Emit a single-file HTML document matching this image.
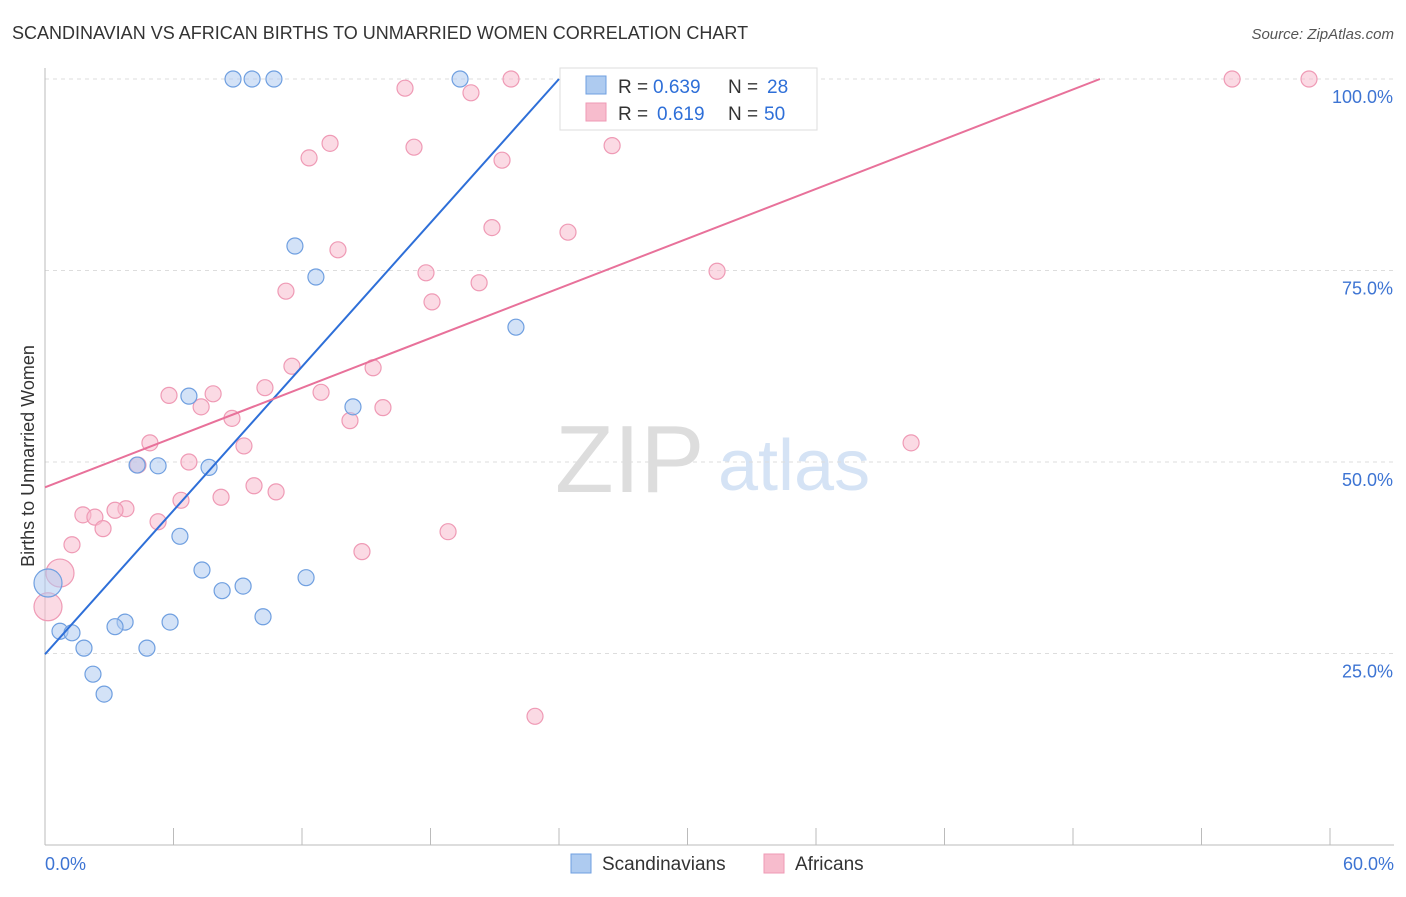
<!DOCTYPE html>
<html><head><meta charset="utf-8"><style>
body{margin:0;background:#fff;font-family:"Liberation Sans",sans-serif;}
svg text{font-family:"Liberation Sans",sans-serif;}
</style></head><body>
<svg id="c" width="1406" height="892" viewBox="0 0 1406 892">
<text x="12" y="39" font-size="18" fill="#333">SCANDINAVIAN VS AFRICAN BIRTHS TO UNMARRIED WOMEN CORRELATION CHART</text>
<text x="1394" y="39" font-size="15" fill="#555" font-style="italic" text-anchor="end">Source: ZipAtlas.com</text>
<text transform="translate(34,456) rotate(-90)" font-size="18" fill="#333" text-anchor="middle">Births to Unmarried Women</text>
<text x="555" y="492" font-size="96" fill="#ddd" font-family="Liberation Serif">ZIP</text>
<text x="718" y="490" font-size="72" fill="#d5e3f5">atlas</text>
<g id="grid"></g><g id="marks"></g>
<g>
<rect x="560" y="68" width="257" height="62" fill="#fff" stroke="#ddd"/>
<rect x="586" y="76" width="20" height="18" fill="#aecbf0" stroke="#6f9fe0"/>
<rect x="586" y="103" width="20" height="18" fill="#f7bccd" stroke="#ef9ab5"/>
<text x="618" y="93" font-size="19" fill="#333">R =</text>
<text x="653" y="93" font-size="19" fill="#2e6fd8">0.639</text>
<text x="728" y="93" font-size="19" fill="#333">N =</text>
<text x="767" y="93" font-size="19" fill="#2e6fd8">28</text>
<text x="618" y="120" font-size="19" fill="#333">R =</text>
<text x="657" y="120" font-size="19" fill="#2e6fd8">0.619</text>
<text x="728" y="120" font-size="19" fill="#333">N =</text>
<text x="764" y="120" font-size="19" fill="#2e6fd8">50</text>
</g>
<g>
<rect x="571" y="854" width="20" height="19" fill="#aecbf0" stroke="#6f9fe0"/>
<text x="602" y="870" font-size="19" fill="#333">Scandinavians</text>
<rect x="764" y="854" width="20" height="19" fill="#f7bccd" stroke="#ef9ab5"/>
<text x="795" y="870" font-size="19" fill="#333">Africans</text>
</g>
</svg>
<script>
const blueX=[8.78,9.67,10.69,19.38,11.67,12.65,21.99,6.72,14.38,4.30,5.28,7.66,6.30,7.33,8.27,9.25,12.19,10.18,3.74,3.27,5.84,4.76,0.70,1.26,1.82,2.24,2.76,0.14];
const blueY=[100,100,100,100,78.2,74.15,67.6,58.6,57.2,49.6,49.5,49.3,40.3,35.9,33.2,33.8,34.9,29.8,29.1,28.5,29.1,25.7,27.9,27.7,25.7,22.3,19.7,34.2];
const pinkX=[16.81,19.89,21.76,35.26,55.43,59.02,13.31,12.33,17.23,21.34,26.48,20.87,24.42,13.68,17.79,11.25,20.27,18.07,31.38,11.53,15.32,10.27,12.89,5.79,7.85,7.29,15.78,8.73,14.24,4.90,9.29,4.34,6.72,40.44,9.76,10.79,8.22,6.35,3.78,3.27,1.77,2.33,2.71,5.28,1.26,14.80,18.82,0.70,0.14,22.88];
const pinkY=[98.8,98.2,100,100,100,100,91.6,89.7,91.1,89.4,91.3,80.6,80.0,77.7,74.7,72.3,73.4,70.9,74.9,62.5,62.3,59.7,59.1,58.7,58.9,57.2,57.1,55.7,55.4,52.5,52.1,49.6,50.0,52.5,46.9,46.1,45.4,45.0,43.9,43.7,43.1,42.8,41.3,42.2,39.2,38.3,40.9,35.5,31.1,16.8];
const blueLarge=[27];
const pinkLarge=[47,48];
const blueLine=[[0,24.9],[24.0,100]];
const pinkLine=[[0,46.7],[49.26,100]];
const xTicks=[0,6,12,18,24,30,36,42,48,54,60];
const yTicks=[25,50,75,100];
const NS='http://www.w3.org/2000/svg';
const sx=v=>45+v/60*1285, sy=v=>845-v/100*766;
function mk(t,a,p){const e=document.createElementNS(NS,t);for(const k in a)e.setAttribute(k,a[k]);p.appendChild(e);return e;}
const grid=document.getElementById('grid'), marks=document.getElementById('marks');
yTicks.forEach(v=>{
 const l=mk('line',{x1:45,x2:1394,y1:sy(v),y2:sy(v),stroke:'#ddd','stroke-dasharray':'4,4'},grid);
 
 
 const t=mk('text',{x:1393,y:sy(v)+24,'font-size':18,fill:'#3d74d3','text-anchor':'end'},grid);t.textContent=v.toFixed(1)+'%';
 
 
});
const ax=mk('line',{x1:45,x2:1394,y1:845,y2:845,stroke:'#bbb'},grid);


const ay=mk('line',{x1:45,x2:45,y1:68,y2:845,stroke:'#bbb'},grid);


xTicks.forEach(v=>{const l=mk('line',{x1:sx(v),x2:sx(v),y1:828,y2:845,stroke:'#bbb'},grid);
 
 });
[[0,'0.0%','start',45],[60,'60.0%','end',1394]].forEach(d=>{const t=mk('text',{x:d[3],y:870,'font-size':18,fill:'#3d74d3','text-anchor':d[2]},grid);t.textContent=d[1];
 
 });
function pts(X,Y,L,fill,stroke,name){X.forEach((x,i)=>{const c=mk('circle',{cx:sx(x),cy:sy(Y[i]),r:L.includes(i)?14:8,fill:fill,'fill-opacity':0.55,stroke:stroke,'stroke-width':1.2},marks);
 
 });}
pts(pinkX,pinkY,pinkLarge,'#f7bccd','#ef9ab5','african-point');
pts(blueX,blueY,blueLarge,'#aecbf0','#6f9fe0','scandinavian-point');
const bl=mk('line',{x1:sx(blueLine[0][0]),y1:sy(blueLine[0][1]),x2:sx(blueLine[1][0]),y2:sy(blueLine[1][1]),stroke:'#2e6fd8','stroke-width':2},marks);


const pl=mk('line',{x1:sx(pinkLine[0][0]),y1:sy(pinkLine[0][1]),x2:sx(pinkLine[1][0]),y2:sy(pinkLine[1][1]),stroke:'#e8719a','stroke-width':2},marks);


</script>
</body></html>
